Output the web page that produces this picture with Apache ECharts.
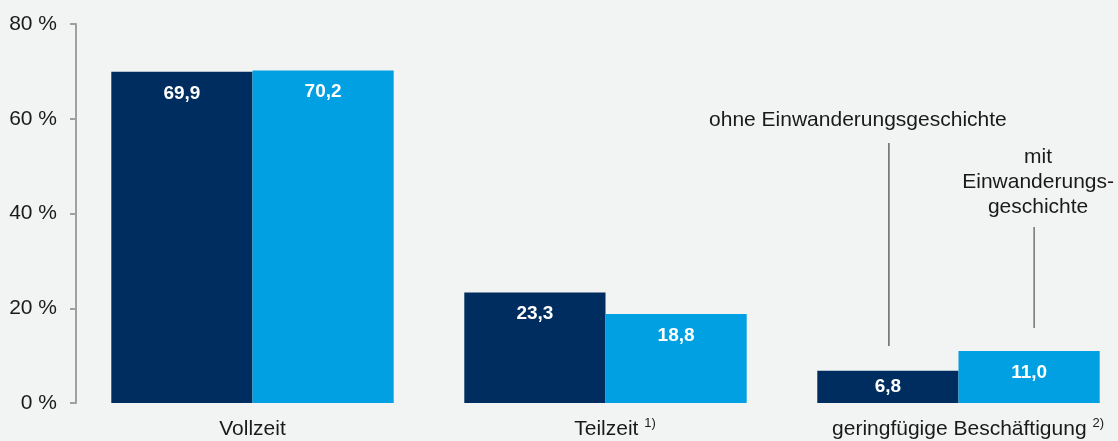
<!DOCTYPE html>
<html><head><meta charset="utf-8">
<script src="https://cdn.jsdelivr.net/npm/echarts@6/dist/echarts.min.js"></script>
<style>html,body{margin:0;padding:0;background:#f2f3f3;}#c{width:1118px;height:441px;}</style>
</head><body><div id="c"></div>
<script>
const categories = ['Vollzeit', 'Teilzeit', 'geringfügige Beschäftigung'];
const categorySup = ['', '1)', '2)'];
const ohneValues = [69.9, 23.3, 6.8];
const mitValues = [70.2, 18.8, 11.0];
const seriesNames = ['ohne Einwanderungsgeschichte', 'mit Einwanderungsgeschichte'];
const yTicks = [0, 20, 40, 60, 80];

const FONT = 'Liberation Sans, Arial, sans-serif';
const fmt = v => v.toFixed(1).replace('.', ',');
function mkData(vals) {
  return vals.map(v => v < 9 ? {value: v, label: {position: 'inside', distance: 0}} : v);
}
const GRID_W = 1059;
const chart = echarts.init(document.getElementById('c'));
chart.setOption({
  backgroundColor: '#f2f3f3',
  animation: false,
  grid: {left: 76, top: 24, bottom: 38, width: GRID_W, outerBoundsMode: 'none', containLabel: false},
  xAxis: {
    type: 'category', data: categories,
    axisLine: {show: false}, axisTick: {show: false},
    axisLabel: {
      interval: 0, hideOverlap: false,
      margin: 14, color: '#1a1a1a',
      formatter: (v, i) => categorySup[i] ? '{pad|}{m|' + v + ' }{s|' + categorySup[i] + '}' : '{m|' + v + '}',
      rich: {
        pad: {width: 19, lineHeight: 24},
        m: {fontSize: 21, fontFamily: FONT, color: '#1a1a1a', lineHeight: 24},
        s: {fontSize: 13, fontFamily: FONT, color: '#1a1a1a', lineHeight: 13, verticalAlign: 'top'}
      }
    }
  },
  yAxis: {
    type: 'value', min: yTicks[0], max: yTicks[yTicks.length - 1], interval: 20,
    axisLine: {show: true, lineStyle: {color: '#a0a0a0', width: 2}},
    axisTick: {show: true, length: 6, lineStyle: {color: '#a0a0a0', width: 2}},
    splitLine: {show: false},
    axisLabel: {margin: 19, fontFamily: FONT, fontSize: 21, color: '#1a1a1a', formatter: '{value} %'}
  },
  series: [
    {name: seriesNames[0], type: 'bar', data: mkData(ohneValues), barGap: '0%', barCategoryGap: '20%',
     itemStyle: {color: '#002d5f'},
     label: {show: true, position: 'insideTop', distance: 12, color: '#fff', fontWeight: 'bold', fontSize: 19, fontFamily: FONT, formatter: p => fmt(p.value)}},
    {name: seriesNames[1], type: 'bar', data: mkData(mitValues), barGap: '0%', barCategoryGap: '20%',
     itemStyle: {color: '#00a0e2'},
     label: {show: true, position: 'insideTop', distance: 12, color: '#fff', fontWeight: 'bold', fontSize: 19, fontFamily: FONT, formatter: p => fmt(p.value)}}
  ]
});

// annotations placed relative to the last category's bars
const cx = chart.convertToPixel({xAxisIndex: 0}, categories[2]);
const band = GRID_W / 3;
const barW = band * 0.4;
const xDark = cx - barW / 2, xLight = cx + barW / 2;
chart.setOption({
  graphic: [
    {type: 'text', x: xDark - 30, y: 110, style: {text: seriesNames[0], font: '21px ' + FONT, fill: '#1a1a1a', align: 'center'}},
    {type: 'line', shape: {x1: xDark + 1, y1: 143, x2: xDark + 1, y2: 346}, style: {stroke: '#666', lineWidth: 1.5}},
    {type: 'text', x: xLight + 9, y: 145, style: {text: 'mit\nEinwanderungs-\ngeschichte', font: '21px ' + FONT, fill: '#1a1a1a', align: 'center', lineHeight: 25}},
    {type: 'line', shape: {x1: xLight + 5, y1: 227, x2: xLight + 5, y2: 328}, style: {stroke: '#333', lineWidth: 1}}
  ]
});
</script></body></html>
